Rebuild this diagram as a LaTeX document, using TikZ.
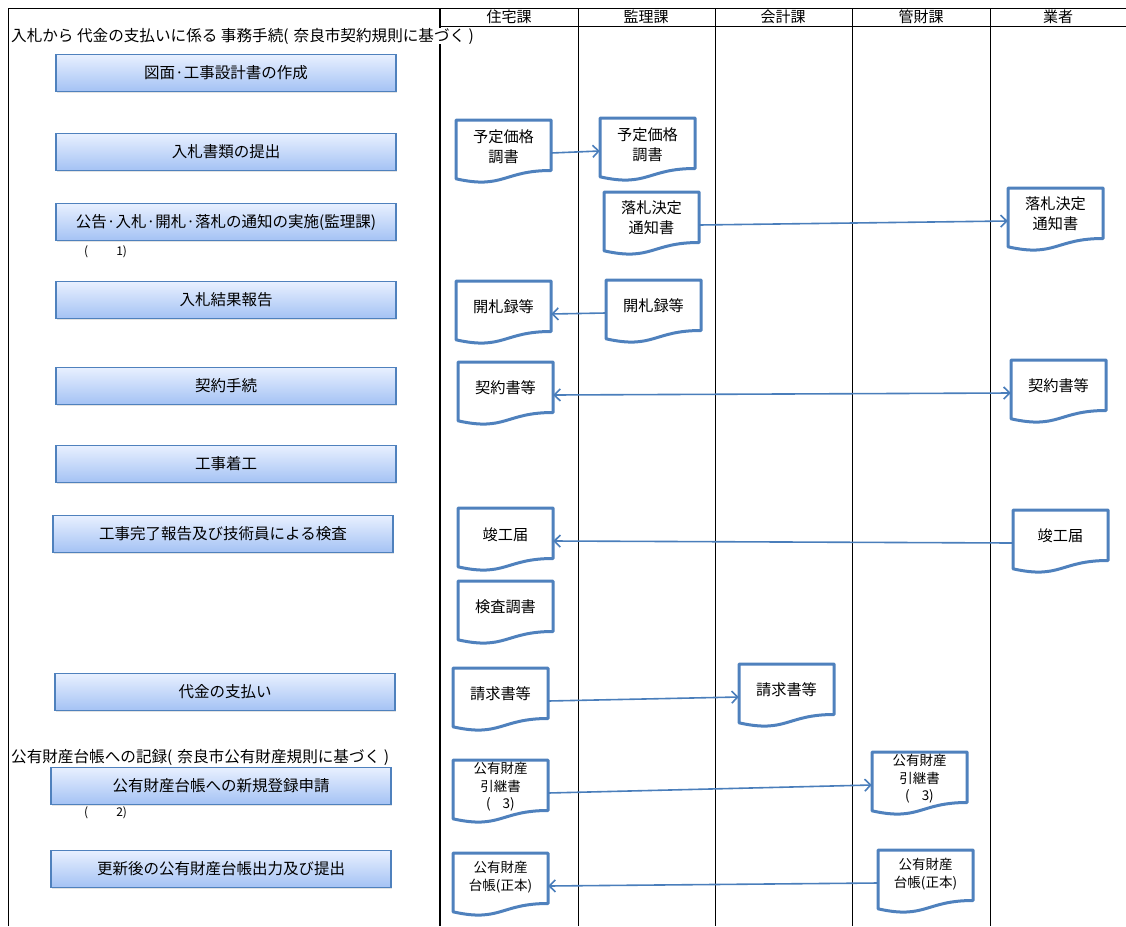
\documentclass[tikz,border=0pt]{standalone}
\usepackage{fontspec}
\setmainfont{Noto Sans CJK JP}
\usetikzlibrary{arrows.meta,shadows}
\definecolor{docblue}{HTML}{4F81BD}
\definecolor{arrblue}{HTML}{4A7EBB}
\definecolor{boxtop}{HTML}{E8F0FF}
\definecolor{boxbot}{HTML}{A4C2F4}
\tikzset{
  gridline/.style={draw=black, line width=0.8pt},
  gridthick/.style={draw=black, line width=1.4pt},
  lbox/.style={draw=docblue, line width=1.2pt, top color=boxtop, bottom color=boxbot,
    minimum width=340pt, minimum height=37pt, inner sep=0pt,
    font=\fontsize{15.5}{17}\selectfont,
    drop shadow={opacity=0.22, shadow xshift=0.8pt, shadow yshift=-1.4pt}},
  hdr/.style={font=\fontsize{15}{16}\selectfont, inner sep=0pt},
  ttl/.style={font=\fontsize{15.6}{17}\selectfont, inner sep=0pt, anchor=west},
  note/.style={font=\fontsize{12}{13}\selectfont, inner sep=0pt, anchor=west},
  docline/.style={draw=docblue, line width=3pt, fill=white, line join=round},
  docanchor/.style={inner sep=0pt, minimum width=95pt, minimum height=62pt},
  doctext/.style={font=\fontsize{15.2}{20}\selectfont, align=center, inner sep=0pt},
  doctextsm/.style={font=\fontsize{13.5}{17.5}\selectfont, align=center, inner sep=0pt},
  arr/.style={draw=arrblue, line width=1.6pt, -{Straight Barb[length=6pt,width=12pt]}},
  darr/.style={draw=arrblue, line width=1.6pt, {Straight Barb[length=6pt,width=12pt]}-{Straight Barb[length=6pt,width=12pt]}}
}
% name, x, y (top left), text y offset, text style, text
\newcommand{\docu}[6]{%
  \draw[docline] (#2,#3) -- ({#2+95},#3) -- ({#2+95},{#3+50.5})
    .. controls ({#2+47.5},{#3+50.5}) and ({#2+47.5},{#3+69.5}) .. (#2,{#3+58.8}) -- cycle;
  \node[docanchor] (#1) at ({#2+47.5},{#3+33}) {};
  \node[#5] (#1t) at ({#2+47.5},{#3+#4}) {#6};
}
\begin{document}
\begin{tikzpicture}[x=1pt,y=-1pt]
\useasboundingbox (0,0) rectangle (1126,926);
% table grid
\draw[gridline] (8,926) -- (8,8) -- (1126,8);
\draw[gridline] (440,26) -- (1126,26);
\draw[gridthick] (440,8) -- (440,926);
\foreach \xx in {578,715,852,990} \draw[gridline] (\xx,8) -- (\xx,926);
% headers
\node[hdr] (h1) at (509,17) {住宅課};
\node[hdr] (h2) at (646,17) {監理課};
\node[hdr] (h3) at (783,17) {会計課};
\node[hdr] (h4) at (921,17) {管財課};
\node[hdr] (h5) at (1058,17) {業者};
% titles
\node[ttl, fill=white] (title1) at (11,36) {入札から 代金の支払いに係る 事務手続(\hspace{5pt}奈良市契約規則に基づく )};
\node[ttl, fill=white] (title2) at (11,757) {公有財産台帳への記録(\hspace{5pt}奈良市公有財産規則に基づく )};
% left process boxes
\node[lbox] (b1) at (226,73) {図面·工事設計書の作成};
\node[lbox] (b2) at (226,152) {入札書類の提出};
\node[lbox] (b3) at (226,222) {公告·入札·開札·落札の通知の実施(監理課)};
\node[note] (n1) at (84,252) {(\hspace{28pt}1)};
\node[lbox] (b4) at (226,300) {入札結果報告};
\node[lbox] (b5) at (226,386) {契約手続};
\node[lbox] (b6) at (226,464) {工事着工};
\node[lbox] (b7) at (223,534) {工事完了報告及び技術員による検査};
\node[lbox] (b8) at (225,692) {代金の支払い};
\node[lbox] (b9) at (221,786) {公有財産台帳への新規登録申請};
\node[note] (n2) at (84,813) {(\hspace{28pt}2)};
\node[lbox] (b10) at (221,869) {更新後の公有財産台帳出力及び提出};
% documents
\docu{yotei1}{456}{120}{27}{doctext}{予定価格\\調書}
\docu{yotei2}{600}{118}{27}{doctext}{予定価格\\調書}
\docu{raku1}{604}{192}{26}{doctext}{落札決定\\通知書}
\docu{raku2}{1008}{188}{26}{doctext}{落札決定\\通知書}
\docu{kai1}{456}{281}{26}{doctext}{開札録等}
\docu{kai2}{606}{280}{26}{doctext}{開札録等}
\docu{kei1}{458}{362}{26}{doctext}{契約書等}
\docu{kei2}{1011}{360}{26}{doctext}{契約書等}
\docu{shun1}{458}{508}{27}{doctext}{竣工届}
\docu{shun2}{1013}{510}{26}{doctext}{竣工届}
\docu{kensa}{458}{581}{26}{doctext}{検査調書}
\docu{sei1}{453}{668}{26}{doctext}{請求書等}
\docu{sei2}{739}{664}{26}{doctext}{請求書等}
\docu{hiki1}{453}{760}{27}{doctextsm}{公有財産\\引継書\\(\hspace{12pt}3)}
\docu{hiki2}{872}{752}{27}{doctextsm}{公有財産\\引継書\\(\hspace{12pt}3)}
\docu{dai1}{453}{853}{24}{doctextsm}{公有財産\\台帳(正本)}
\docu{dai2}{878}{850}{24}{doctextsm}{公有財産\\台帳(正本)}
% connectors
\draw[arr] (yotei1.east) -- (yotei2.west);
\draw[arr] (raku1.east) -- (raku2.west);
\draw[arr] (kai2.west) -- (kai1.east);
\draw[darr] (kei1.east) -- (kei2.west);
\draw[arr] (shun2.west) -- (shun1.east);
\draw[arr] (sei1.east) -- (sei2.west);
\draw[arr] (hiki1.east) -- (hiki2.west);
\draw[arr] (dai2.west) -- (dai1.east);
\end{tikzpicture}
\end{document}
